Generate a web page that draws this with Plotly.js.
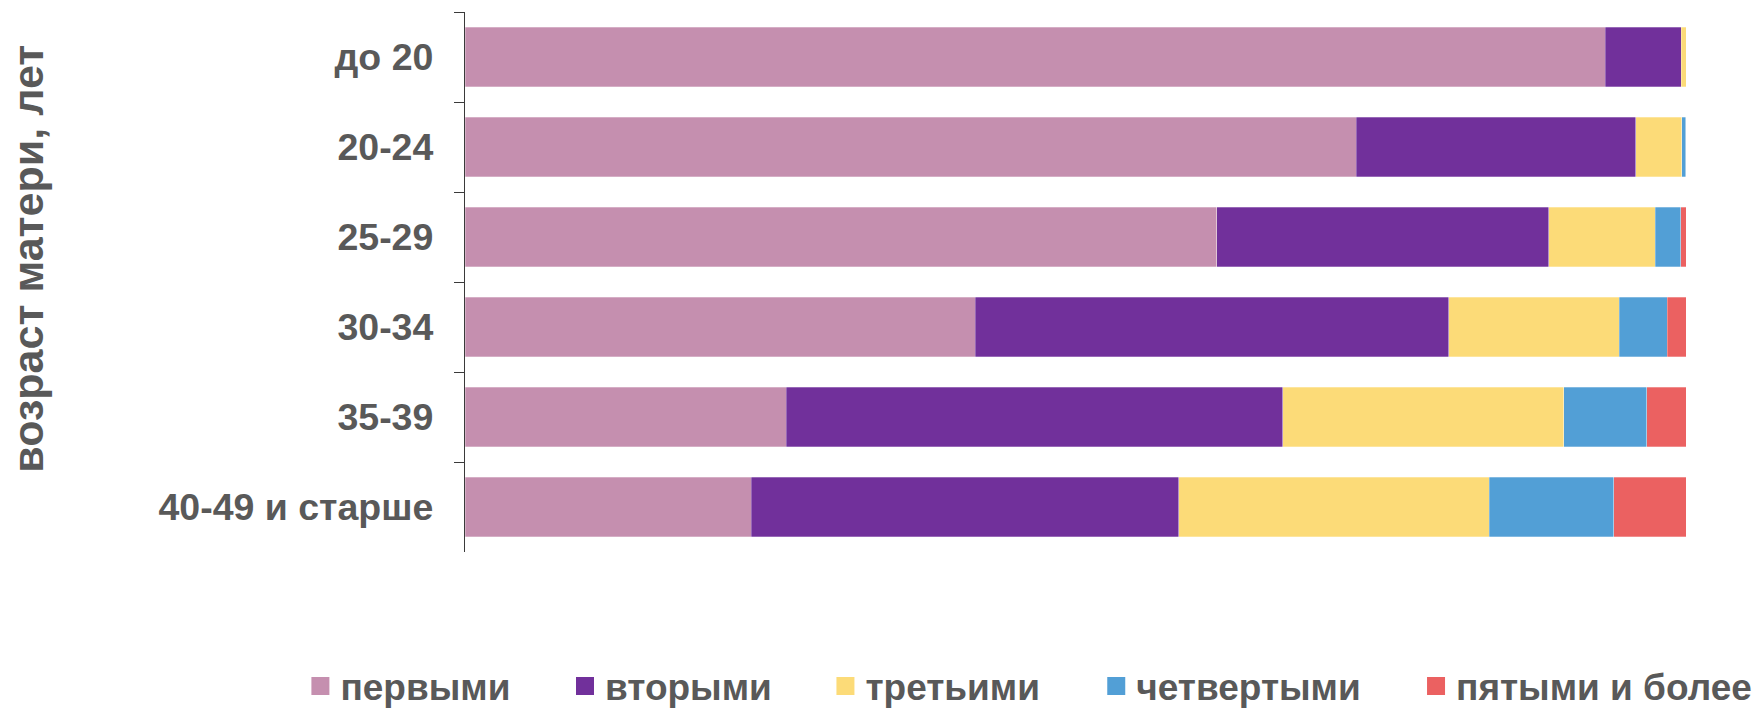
<!DOCTYPE html>
<html>
<head>
<meta charset="utf-8">
<script src="https://cdn.plot.ly/plotly-3.0.1.min.js"></script>
<style>
  html, body { margin: 0; padding: 0; background: #fff; }
  #chart { width: 1758px; height: 711px; }
</style>
</head>
<body>
<div id="chart"></div>
<script>
// Age groups of mother (categories)
const ageGroups = ["до 20", "20-24", "25-29", "30-34", "35-39", "40-49 и старше"];

// Series names (birth order)
const seriesNames = ["первыми", "вторыми", "третьими", "четвертыми", "пятыми и более"];

// Share of births by birth order, %
const first  = [93.4, 73.0, 61.6, 41.8, 26.3, 23.4];
const second = [6.2, 22.9, 27.2, 38.8, 40.6, 35.0];
const third  = [0.4, 3.8, 8.7, 14.0, 23.0, 25.4];
const fourth = [0.0, 0.3, 2.1, 3.9, 6.8, 10.2];
const fifth  = [0.0, 0.03, 0.44, 1.55, 3.2, 5.9];

const axisTitle = "возраст матери, лет";

const seriesValues = [first, second, third, fourth, fifth];
const seriesColors = ["#C58FAF", "#71309B", "#FCDB78", "#529FD6", "#EB6161"];

// horizontal legend slot positions (paper x) for each series
const legendX = [-0.1348, 0.0819, 0.2952, 0.5170, 0.7789];

const textColor = "#595959";
const fontFamily = "Liberation Sans, Arial, sans-serif";
const legendFont = { family: fontFamily, size: 37, color: textColor, weight: "bold" };

const barTraces = seriesNames.map((name, i) => ({
  type: "bar",
  orientation: "h",
  name: name,
  y: ageGroups,
  x: seriesValues[i],
  marker: {
    color: seriesColors[i],
    line: { color: "rgba(255,255,255,0.35)", width: 0.8 }
  },
  showlegend: false,
  legendgroup: name,
  hoverinfo: "x+y+name"
}));

// legend-only entries (bigger square swatches), one per legend slot
const legendTraces = seriesNames.map((name, i) => ({
  type: "scatter",
  mode: "markers",
  name: name,
  x: [null],
  y: [null],
  marker: { symbol: "square", size: 16, color: seriesColors[i], line: { color: seriesColors[i], width: 2 } },
  showlegend: true,
  legendgroup: name,
  legend: i === 0 ? "legend" : "legend" + (i + 1),
  hoverinfo: "skip"
}));

const layout = {
  width: 1758,
  height: 711,
  barmode: "stack",
  barnorm: "percent",
  bargap: 0.34,
  paper_bgcolor: "#ffffff",
  plot_bgcolor: "#ffffff",
  margin: { l: 465, r: 72, t: 12, b: 159, autoexpand: false },
  font: { family: fontFamily, color: textColor, size: 36 },
  showlegend: true,
  xaxis: {
    range: [0, 100],
    visible: false,
    showgrid: false,
    zeroline: false,
    fixedrange: true
  },
  yaxis: {
    type: "category",
    autorange: "reversed",
    automargin: false,
    showline: true,
    linecolor: "#3a3a3a",
    linewidth: 1.3,
    ticks: "outside",
    tickson: "boundaries",
    ticklen: 10,
    tickcolor: "#3a3a3a",
    tickwidth: 1.3,
    ticklabelstandoff: 23,
    tickfont: { family: fontFamily, size: 37.5, color: textColor, weight: "bold" },
    showgrid: false,
    zeroline: false,
    fixedrange: true
  },
  annotations: [{
    text: axisTitle,
    textangle: -90,
    xref: "paper",
    yref: "paper",
    x: -0.3582,
    y: 0.5426,
    xanchor: "center",
    yanchor: "middle",
    showarrow: false,
    font: { family: fontFamily, size: 43, color: textColor, weight: "bold" }
  }]
};

legendX.forEach((lx, i) => {
  const key = i === 0 ? "legend" : "legend" + (i + 1);
  layout[key] = {
    orientation: "h",
    x: lx,
    xanchor: "left",
    y: -0.249,
    yanchor: "middle",
    font: legendFont,
    bgcolor: "rgba(0,0,0,0)",
    borderwidth: 0,
    itemclick: false,
    itemdoubleclick: false
  };
});

Plotly.newPlot("chart", barTraces.concat(legendTraces), layout, { displayModeBar: false });
</script>
</body>
</html>
